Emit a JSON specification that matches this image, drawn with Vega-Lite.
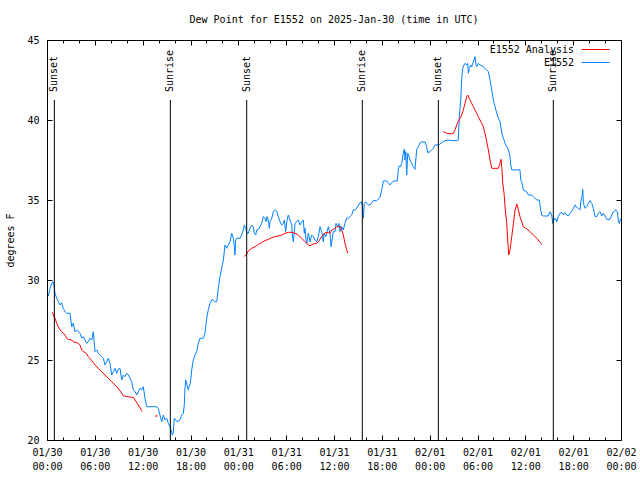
{
  "$schema": "https://vega.github.io/schema/vega-lite/v6.json",
  "width": 574,
  "height": 400,
  "autosize": {"type": "none"},
  "padding": {"left": 47, "top": 40, "right": 19, "bottom": 40},
  "background": "white",
  "title": {"text": "Dew Point for E1552 on 2025-Jan-30 (time in UTC)", "anchor": "middle", "offset": 10, "font": "DejaVu Sans Mono", "fontSize": 10, "fontWeight": "normal", "color": "black"},
  "config": {
    "view": {"stroke": "black", "strokeWidth": 1},
    "font": "DejaVu Sans Mono",
    "axis": {"domain": false, "grid": false, "labelFont": "DejaVu Sans Mono", "labelFontSize": 10, "labelColor": "black", "tickColor": "black", "titleFont": "DejaVu Sans Mono", "titleFontSize": 10, "titleFontWeight": "normal", "titleColor": "black", "labelOverlap": false, "labelFlush": false}
  },
  "datasets": {
    "obs": [
      {"t":0.16,"dewpoint":29.0},{"t":0.38,"dewpoint":29.48},{"t":0.59,"dewpoint":29.79},{"t":0.75,"dewpoint":29.89},{"t":0.88,"dewpoint":29.69},{"t":1.0,"dewpoint":29.17},{"t":1.22,"dewpoint":28.86},{"t":1.42,"dewpoint":28.64},{"t":1.63,"dewpoint":28.44},{"t":1.84,"dewpoint":28.58},{"t":2.04,"dewpoint":28.23},{"t":2.26,"dewpoint":28.02},{"t":2.47,"dewpoint":27.92},{"t":2.89,"dewpoint":27.92},{"t":3.1,"dewpoint":27.08},{"t":3.3,"dewpoint":27.29},{"t":3.51,"dewpoint":26.77},{"t":3.73,"dewpoint":26.88},{"t":4.14,"dewpoint":26.67},{"t":4.35,"dewpoint":26.36},{"t":4.55,"dewpoint":26.46},{"t":4.77,"dewpoint":26.25},{"t":4.98,"dewpoint":26.04},{"t":5.18,"dewpoint":26.14},{"t":5.39,"dewpoint":26.36},{"t":5.61,"dewpoint":26.25},{"t":5.81,"dewpoint":26.77},{"t":6.02,"dewpoint":25.52},{"t":6.23,"dewpoint":25.63},{"t":6.44,"dewpoint":25.42},{"t":6.86,"dewpoint":25.21},{"t":7.06,"dewpoint":25.11},{"t":7.28,"dewpoint":24.69},{"t":7.49,"dewpoint":24.89},{"t":7.69,"dewpoint":25.11},{"t":7.9,"dewpoint":24.79},{"t":8.12,"dewpoint":24.06},{"t":8.32,"dewpoint":24.27},{"t":8.53,"dewpoint":24.48},{"t":8.74,"dewpoint":24.17},{"t":8.94,"dewpoint":24.42},{"t":9.16,"dewpoint":24.48},{"t":9.37,"dewpoint":23.75},{"t":9.57,"dewpoint":24.06},{"t":9.78,"dewpoint":23.96},{"t":10.0,"dewpoint":24.17},{"t":10.2,"dewpoint":24.06},{"t":10.41,"dewpoint":23.86},{"t":10.62,"dewpoint":23.64},{"t":10.83,"dewpoint":23.13},{"t":11.04,"dewpoint":23.02},{"t":11.25,"dewpoint":22.81},{"t":11.67,"dewpoint":23.23},{"t":11.88,"dewpoint":23.13},{"t":12.08,"dewpoint":23.33},{"t":12.29,"dewpoint":22.61},{"t":12.51,"dewpoint":22.08},{"t":13.33,"dewpoint":22.08},{"t":13.76,"dewpoint":22.08},{"t":13.96,"dewpoint":21.98},{"t":14.17,"dewpoint":21.56},{"t":14.39,"dewpoint":21.14},{"t":14.59,"dewpoint":21.56},{"t":14.8,"dewpoint":21.25},{"t":15.02,"dewpoint":21.36},{"t":15.22,"dewpoint":21.04},{"t":15.43,"dewpoint":20.83},{"t":15.56,"dewpoint":20.63},{"t":15.72,"dewpoint":20.31},{"t":15.84,"dewpoint":20.42},{"t":15.97,"dewpoint":21.36},{"t":16.14,"dewpoint":21.25},{"t":16.31,"dewpoint":21.14},{"t":16.68,"dewpoint":21.25},{"t":16.9,"dewpoint":21.56},{"t":17.1,"dewpoint":21.67},{"t":17.22,"dewpoint":22.19},{"t":17.31,"dewpoint":23.23},{"t":17.4,"dewpoint":23.75},{"t":17.56,"dewpoint":23.44},{"t":17.72,"dewpoint":23.13},{"t":17.81,"dewpoint":23.33},{"t":17.98,"dewpoint":23.54},{"t":18.15,"dewpoint":24.38},{"t":18.35,"dewpoint":25.0},{"t":18.57,"dewpoint":25.31},{"t":18.78,"dewpoint":25.52},{"t":18.98,"dewpoint":26.04},{"t":19.19,"dewpoint":26.36},{"t":19.61,"dewpoint":26.36},{"t":19.82,"dewpoint":26.67},{"t":20.03,"dewpoint":27.61},{"t":20.23,"dewpoint":28.13},{"t":20.45,"dewpoint":28.54},{"t":20.66,"dewpoint":28.75},{"t":20.86,"dewpoint":28.75},{"t":21.07,"dewpoint":28.64},{"t":21.29,"dewpoint":28.64},{"t":21.49,"dewpoint":29.48},{"t":21.7,"dewpoint":30.21},{"t":21.91,"dewpoint":30.73},{"t":22.12,"dewpoint":31.25},{"t":22.33,"dewpoint":32.19},{"t":22.54,"dewpoint":31.98},{"t":22.74,"dewpoint":32.19},{"t":22.96,"dewpoint":32.39},{"t":23.17,"dewpoint":32.92},{"t":23.37,"dewpoint":32.61},{"t":23.5,"dewpoint":32.08},{"t":23.58,"dewpoint":31.56},{"t":23.67,"dewpoint":32.5},{"t":23.8,"dewpoint":32.61},{"t":24.21,"dewpoint":32.61},{"t":24.42,"dewpoint":32.81},{"t":24.62,"dewpoint":33.13},{"t":24.75,"dewpoint":33.44},{"t":24.93,"dewpoint":33.23},{"t":25.09,"dewpoint":32.92},{"t":25.25,"dewpoint":32.92},{"t":25.46,"dewpoint":33.23},{"t":25.68,"dewpoint":33.44},{"t":25.88,"dewpoint":33.33},{"t":26.0,"dewpoint":32.92},{"t":26.18,"dewpoint":32.81},{"t":26.31,"dewpoint":33.13},{"t":26.51,"dewpoint":33.17},{"t":26.72,"dewpoint":33.33},{"t":26.93,"dewpoint":33.54},{"t":27.13,"dewpoint":33.96},{"t":27.34,"dewpoint":33.86},{"t":27.47,"dewpoint":33.64},{"t":27.6,"dewpoint":33.96},{"t":27.76,"dewpoint":33.75},{"t":27.89,"dewpoint":33.23},{"t":27.97,"dewpoint":33.64},{"t":28.19,"dewpoint":33.86},{"t":28.39,"dewpoint":34.27},{"t":28.6,"dewpoint":34.38},{"t":28.81,"dewpoint":34.31},{"t":29.01,"dewpoint":33.96},{"t":29.23,"dewpoint":33.64},{"t":29.44,"dewpoint":33.44},{"t":29.64,"dewpoint":33.54},{"t":29.77,"dewpoint":33.75},{"t":29.94,"dewpoint":33.02},{"t":30.07,"dewpoint":33.64},{"t":30.27,"dewpoint":34.06},{"t":30.48,"dewpoint":33.75},{"t":30.7,"dewpoint":33.44},{"t":30.77,"dewpoint":32.81},{"t":30.9,"dewpoint":32.39},{"t":31.11,"dewpoint":33.54},{"t":31.32,"dewpoint":33.64},{"t":31.52,"dewpoint":33.75},{"t":31.74,"dewpoint":33.44},{"t":31.95,"dewpoint":33.64},{"t":32.15,"dewpoint":33.75},{"t":32.28,"dewpoint":32.92},{"t":32.36,"dewpoint":33.23},{"t":32.49,"dewpoint":32.5},{"t":32.58,"dewpoint":32.29},{"t":32.78,"dewpoint":32.92},{"t":32.99,"dewpoint":32.39},{"t":33.2,"dewpoint":32.81},{"t":33.4,"dewpoint":32.71},{"t":33.62,"dewpoint":32.5},{"t":33.83,"dewpoint":32.39},{"t":34.03,"dewpoint":32.71},{"t":34.25,"dewpoint":33.33},{"t":34.46,"dewpoint":33.02},{"t":34.66,"dewpoint":32.39},{"t":34.78,"dewpoint":32.92},{"t":34.96,"dewpoint":32.71},{"t":35.09,"dewpoint":32.92},{"t":35.29,"dewpoint":33.33},{"t":35.5,"dewpoint":32.92},{"t":35.63,"dewpoint":32.08},{"t":35.79,"dewpoint":32.61},{"t":35.91,"dewpoint":33.02},{"t":36.13,"dewpoint":33.02},{"t":36.25,"dewpoint":33.54},{"t":36.47,"dewpoint":33.33},{"t":36.63,"dewpoint":33.54},{"t":36.75,"dewpoint":33.02},{"t":36.97,"dewpoint":33.33},{"t":37.17,"dewpoint":33.13},{"t":37.38,"dewpoint":33.54},{"t":37.59,"dewpoint":33.86},{"t":37.8,"dewpoint":33.86},{"t":38.22,"dewpoint":34.06},{"t":38.42,"dewpoint":34.38},{"t":38.64,"dewpoint":34.38},{"t":38.85,"dewpoint":34.48},{"t":39.14,"dewpoint":34.75},{"t":39.39,"dewpoint":34.89},{"t":39.55,"dewpoint":34.69},{"t":39.68,"dewpoint":33.86},{"t":39.8,"dewpoint":34.79},{"t":39.98,"dewpoint":34.89},{"t":40.1,"dewpoint":34.79},{"t":40.3,"dewpoint":34.69},{"t":40.52,"dewpoint":34.69},{"t":40.73,"dewpoint":34.83},{"t":40.93,"dewpoint":34.96},{"t":41.36,"dewpoint":34.96},{"t":41.77,"dewpoint":35.17},{"t":41.99,"dewpoint":35.63},{"t":42.19,"dewpoint":36.19},{"t":42.61,"dewpoint":36.19},{"t":42.81,"dewpoint":36.08},{"t":43.03,"dewpoint":35.94},{"t":43.24,"dewpoint":36.08},{"t":43.44,"dewpoint":36.19},{"t":43.94,"dewpoint":36.19},{"t":44.07,"dewpoint":36.92},{"t":44.19,"dewpoint":37.13},{"t":44.32,"dewpoint":37.08},{"t":44.49,"dewpoint":37.29},{"t":44.69,"dewpoint":37.92},{"t":44.82,"dewpoint":38.17},{"t":44.91,"dewpoint":37.5},{"t":45.0,"dewpoint":38.02},{"t":45.12,"dewpoint":36.56},{"t":45.25,"dewpoint":37.92},{"t":45.41,"dewpoint":37.71},{"t":45.54,"dewpoint":37.5},{"t":45.75,"dewpoint":37.29},{"t":45.95,"dewpoint":37.08},{"t":46.16,"dewpoint":36.92},{"t":46.38,"dewpoint":38.17},{"t":46.58,"dewpoint":38.33},{"t":46.79,"dewpoint":38.58},{"t":47.0,"dewpoint":38.63},{"t":47.42,"dewpoint":38.63},{"t":47.63,"dewpoint":38.33},{"t":47.76,"dewpoint":37.96},{"t":48.04,"dewpoint":38.02},{"t":48.26,"dewpoint":38.13},{"t":48.46,"dewpoint":38.23},{"t":48.67,"dewpoint":38.44},{"t":49.09,"dewpoint":38.44},{"t":49.3,"dewpoint":38.5},{"t":49.51,"dewpoint":38.58},{"t":49.92,"dewpoint":38.71},{"t":50.34,"dewpoint":38.75},{"t":50.77,"dewpoint":38.71},{"t":51.39,"dewpoint":38.71},{"t":51.59,"dewpoint":38.75},{"t":51.72,"dewpoint":40.21},{"t":51.9,"dewpoint":41.25},{"t":52.02,"dewpoint":42.61},{"t":52.15,"dewpoint":43.23},{"t":52.31,"dewpoint":43.44},{"t":52.43,"dewpoint":43.54},{"t":52.65,"dewpoint":43.44},{"t":52.77,"dewpoint":43.54},{"t":52.85,"dewpoint":42.92},{"t":52.97,"dewpoint":43.23},{"t":53.15,"dewpoint":43.44},{"t":53.27,"dewpoint":43.33},{"t":53.4,"dewpoint":43.54},{"t":53.56,"dewpoint":43.75},{"t":53.69,"dewpoint":43.96},{"t":53.81,"dewpoint":43.44},{"t":53.9,"dewpoint":43.33},{"t":54.1,"dewpoint":43.54},{"t":54.31,"dewpoint":43.44},{"t":54.73,"dewpoint":43.33},{"t":55.15,"dewpoint":43.13},{"t":55.36,"dewpoint":43.02},{"t":55.57,"dewpoint":42.5},{"t":55.79,"dewpoint":41.88},{"t":55.99,"dewpoint":41.25},{"t":56.2,"dewpoint":40.83},{"t":56.42,"dewpoint":40.42},{"t":56.62,"dewpoint":40.11},{"t":56.83,"dewpoint":39.89},{"t":57.05,"dewpoint":39.17},{"t":57.25,"dewpoint":38.86},{"t":57.46,"dewpoint":38.54},{"t":57.67,"dewpoint":38.33},{"t":57.88,"dewpoint":38.13},{"t":58.08,"dewpoint":37.71},{"t":58.17,"dewpoint":37.19},{"t":58.3,"dewpoint":36.88},{"t":58.93,"dewpoint":36.88},{"t":59.33,"dewpoint":36.88},{"t":59.42,"dewpoint":36.25},{"t":59.55,"dewpoint":36.14},{"t":59.75,"dewpoint":35.63},{"t":60.18,"dewpoint":35.52},{"t":60.38,"dewpoint":35.31},{"t":60.8,"dewpoint":35.31},{"t":61.0,"dewpoint":35.21},{"t":61.22,"dewpoint":35.11},{"t":61.43,"dewpoint":35.0},{"t":61.75,"dewpoint":35.0},{"t":61.93,"dewpoint":34.38},{"t":62.05,"dewpoint":34.06},{"t":62.26,"dewpoint":34.0},{"t":62.89,"dewpoint":34.0},{"t":63.1,"dewpoint":34.27},{"t":63.31,"dewpoint":34.06},{"t":63.44,"dewpoint":33.54},{"t":63.51,"dewpoint":33.86},{"t":63.64,"dewpoint":33.75},{"t":63.77,"dewpoint":33.86},{"t":63.94,"dewpoint":33.64},{"t":64.14,"dewpoint":33.96},{"t":64.35,"dewpoint":34.17},{"t":64.57,"dewpoint":34.21},{"t":64.77,"dewpoint":34.06},{"t":64.98,"dewpoint":34.21},{"t":65.19,"dewpoint":34.06},{"t":65.4,"dewpoint":34.0},{"t":65.61,"dewpoint":34.17},{"t":65.82,"dewpoint":34.27},{"t":66.02,"dewpoint":34.48},{"t":66.23,"dewpoint":34.69},{"t":66.45,"dewpoint":34.54},{"t":66.65,"dewpoint":34.48},{"t":66.86,"dewpoint":34.38},{"t":66.99,"dewpoint":35.0},{"t":67.11,"dewpoint":35.21},{"t":67.2,"dewpoint":35.67},{"t":67.28,"dewpoint":34.79},{"t":67.49,"dewpoint":34.48},{"t":67.7,"dewpoint":34.58},{"t":67.9,"dewpoint":34.79},{"t":68.11,"dewpoint":34.96},{"t":68.33,"dewpoint":34.79},{"t":68.53,"dewpoint":34.48},{"t":68.74,"dewpoint":33.96},{"t":68.96,"dewpoint":33.96},{"t":69.16,"dewpoint":34.17},{"t":69.37,"dewpoint":34.27},{"t":69.58,"dewpoint":34.0},{"t":69.79,"dewpoint":34.17},{"t":70.0,"dewpoint":34.0},{"t":70.21,"dewpoint":33.79},{"t":70.62,"dewpoint":33.79},{"t":70.84,"dewpoint":34.06},{"t":71.04,"dewpoint":34.27},{"t":71.38,"dewpoint":34.38},{"t":71.55,"dewpoint":34.27},{"t":71.68,"dewpoint":33.64},{"t":71.8,"dewpoint":33.54},{"t":71.89,"dewpoint":33.75},{"t":72.0,"dewpoint":33.86}
    ],
    "ana": [
      {"t":0.66,"dewpoint":27.98,"seg":1},{"t":0.79,"dewpoint":27.81,"seg":1},{"t":1.0,"dewpoint":27.61,"seg":1},{"t":1.22,"dewpoint":27.29,"seg":1},{"t":1.42,"dewpoint":27.08,"seg":1},{"t":1.63,"dewpoint":26.88,"seg":1},{"t":1.84,"dewpoint":26.77,"seg":1},{"t":2.26,"dewpoint":26.56,"seg":1},{"t":2.47,"dewpoint":26.36,"seg":1},{"t":2.67,"dewpoint":26.29,"seg":1},{"t":3.1,"dewpoint":26.25,"seg":1},{"t":3.3,"dewpoint":26.14,"seg":1},{"t":3.73,"dewpoint":26.08,"seg":1},{"t":3.93,"dewpoint":26.04,"seg":1},{"t":4.14,"dewpoint":25.94,"seg":1},{"t":4.35,"dewpoint":25.63,"seg":1},{"t":4.55,"dewpoint":25.52,"seg":1},{"t":4.77,"dewpoint":25.48,"seg":1},{"t":4.98,"dewpoint":25.38,"seg":1},{"t":5.18,"dewpoint":25.21,"seg":1},{"t":5.61,"dewpoint":24.96,"seg":1},{"t":6.02,"dewpoint":24.69,"seg":1},{"t":6.44,"dewpoint":24.48,"seg":1},{"t":6.86,"dewpoint":24.27,"seg":1},{"t":7.28,"dewpoint":24.06,"seg":1},{"t":7.69,"dewpoint":23.86,"seg":1},{"t":8.12,"dewpoint":23.64,"seg":1},{"t":8.53,"dewpoint":23.44,"seg":1},{"t":8.94,"dewpoint":23.23,"seg":1},{"t":9.37,"dewpoint":22.92,"seg":1},{"t":9.57,"dewpoint":22.77,"seg":1},{"t":10.0,"dewpoint":22.71,"seg":1},{"t":10.62,"dewpoint":22.67,"seg":1},{"t":10.83,"dewpoint":22.67,"seg":1},{"t":11.04,"dewpoint":22.5,"seg":1},{"t":11.45,"dewpoint":22.19,"seg":1},{"t":11.88,"dewpoint":21.83,"seg":1},{"t":11.95,"dewpoint":21.77,"seg":1},
      {"t":13.55,"dewpoint":21.5,"seg":2},{"t":13.89,"dewpoint":21.5,"seg":2},
      {"t":24.75,"dewpoint":31.46,"seg":3},{"t":25.05,"dewpoint":31.63,"seg":3},{"t":25.25,"dewpoint":31.81,"seg":3},{"t":25.68,"dewpoint":31.98,"seg":3},{"t":26.09,"dewpoint":32.08,"seg":3},{"t":26.51,"dewpoint":32.23,"seg":3},{"t":26.93,"dewpoint":32.33,"seg":3},{"t":27.34,"dewpoint":32.46,"seg":3},{"t":27.76,"dewpoint":32.54,"seg":3},{"t":28.19,"dewpoint":32.64,"seg":3},{"t":28.6,"dewpoint":32.71,"seg":3},{"t":29.01,"dewpoint":32.75,"seg":3},{"t":29.44,"dewpoint":32.81,"seg":3},{"t":29.85,"dewpoint":32.92,"seg":3},{"t":30.27,"dewpoint":32.98,"seg":3},{"t":30.7,"dewpoint":32.98,"seg":3},{"t":31.11,"dewpoint":32.92,"seg":3},{"t":31.52,"dewpoint":32.81,"seg":3},{"t":31.95,"dewpoint":32.61,"seg":3},{"t":32.36,"dewpoint":32.39,"seg":3},{"t":32.78,"dewpoint":32.19,"seg":3},{"t":32.99,"dewpoint":32.14,"seg":3},{"t":33.4,"dewpoint":32.25,"seg":3},{"t":33.83,"dewpoint":32.29,"seg":3},{"t":34.03,"dewpoint":32.39,"seg":3},{"t":34.46,"dewpoint":32.71,"seg":3},{"t":34.87,"dewpoint":32.96,"seg":3},{"t":35.29,"dewpoint":32.96,"seg":3},{"t":35.5,"dewpoint":32.92,"seg":3},{"t":35.71,"dewpoint":33.13,"seg":3},{"t":35.91,"dewpoint":33.17,"seg":3},{"t":36.13,"dewpoint":33.23,"seg":3},{"t":36.34,"dewpoint":33.33,"seg":3},{"t":36.54,"dewpoint":33.33,"seg":3},{"t":36.75,"dewpoint":33.38,"seg":3},{"t":36.97,"dewpoint":33.13,"seg":3},{"t":37.17,"dewpoint":32.81,"seg":3},{"t":37.38,"dewpoint":32.29,"seg":3},{"t":37.59,"dewpoint":31.88,"seg":3},{"t":37.72,"dewpoint":31.67,"seg":3},
      {"t":49.71,"dewpoint":39.27,"seg":4},{"t":50.14,"dewpoint":39.17,"seg":4},{"t":50.77,"dewpoint":39.13,"seg":4},{"t":50.97,"dewpoint":39.17,"seg":4},{"t":51.18,"dewpoint":39.38,"seg":4},{"t":51.39,"dewpoint":39.69,"seg":4},{"t":51.59,"dewpoint":39.89,"seg":4},{"t":51.81,"dewpoint":40.11,"seg":4},{"t":52.02,"dewpoint":40.31,"seg":4},{"t":52.22,"dewpoint":40.63,"seg":4},{"t":52.43,"dewpoint":41.04,"seg":4},{"t":52.65,"dewpoint":41.46,"seg":4},{"t":52.77,"dewpoint":41.56,"seg":4},{"t":52.97,"dewpoint":41.36,"seg":4},{"t":53.27,"dewpoint":41.04,"seg":4},{"t":53.48,"dewpoint":40.83,"seg":4},{"t":53.69,"dewpoint":40.63,"seg":4},{"t":53.9,"dewpoint":40.42,"seg":4},{"t":54.1,"dewpoint":40.21,"seg":4},{"t":54.31,"dewpoint":40.0,"seg":4},{"t":54.53,"dewpoint":39.79,"seg":4},{"t":54.73,"dewpoint":39.58,"seg":4},{"t":54.94,"dewpoint":39.17,"seg":4},{"t":55.16,"dewpoint":38.64,"seg":4},{"t":55.36,"dewpoint":38.13,"seg":4},{"t":55.57,"dewpoint":37.5,"seg":4},{"t":55.79,"dewpoint":36.98,"seg":4},{"t":56.2,"dewpoint":36.98,"seg":4},{"t":56.61,"dewpoint":36.98,"seg":4},{"t":56.83,"dewpoint":37.29,"seg":4},{"t":56.95,"dewpoint":37.54,"seg":4},{"t":57.04,"dewpoint":37.08,"seg":4},{"t":57.17,"dewpoint":36.04,"seg":4},{"t":57.33,"dewpoint":35.42,"seg":4},{"t":57.49,"dewpoint":34.38,"seg":4},{"t":57.67,"dewpoint":33.54,"seg":4},{"t":57.79,"dewpoint":32.5,"seg":4},{"t":57.92,"dewpoint":31.56,"seg":4},{"t":58.08,"dewpoint":31.88,"seg":4},{"t":58.3,"dewpoint":32.71,"seg":4},{"t":58.5,"dewpoint":33.54,"seg":4},{"t":58.71,"dewpoint":34.38,"seg":4},{"t":58.93,"dewpoint":34.75,"seg":4},{"t":59.13,"dewpoint":34.38,"seg":4},{"t":59.33,"dewpoint":33.96,"seg":4},{"t":59.55,"dewpoint":33.64,"seg":4},{"t":59.75,"dewpoint":33.33,"seg":4},{"t":60.17,"dewpoint":33.19,"seg":4},{"t":60.59,"dewpoint":33.02,"seg":4},{"t":61.0,"dewpoint":32.81,"seg":4},{"t":61.43,"dewpoint":32.61,"seg":4},{"t":61.84,"dewpoint":32.36,"seg":4},{"t":62.05,"dewpoint":32.23,"seg":4}
    ],
    "sun": [
      {"t":0.92,"event":"Sunset"},{"t":15.47,"event":"Sunrise"},{"t":25.05,"event":"Sunset"},{"t":39.55,"event":"Sunrise"},{"t":49.09,"event":"Sunset"},{"t":63.51,"event":"Sunrise"}
    ]
  },
  "resolve": {"axis": {"x": "independent", "y": "independent"}},
  "layer": [
    {
      "data": {"name": "obs"},
      "mark": {"type": "line", "strokeWidth": 1, "interpolate": "linear"},
      "encoding": {
        "x": {"field": "t", "type": "quantitative", "scale": {"domain": [0, 72], "nice": false, "zero": false},
          "axis": {"orient": "bottom", "title": null, "values": [0,6,12,18,24,30,36,42,48,54,60,66,72], "tickSize": -5, "labelPadding": 12, "labelLineHeight": 14,
            "labelExpr": "[utcFormat(utc(2025,0,30) + datum.value*3600000, '%m/%d'), utcFormat(utc(2025,0,30) + datum.value*3600000, '%H:%M')]"}},
        "y": {"field": "dewpoint", "type": "quantitative", "scale": {"domain": [20, 45], "nice": false, "zero": false},
          "axis": {"orient": "left", "title": "degrees F", "values": [20,25,30,35,40,45], "tickSize": -5, "labelPadding": 13, "titlePadding": 11}},
        "color": {"datum": "E1552", "type": "nominal",
          "scale": {"domain": ["E1552 Analysis", "E1552"], "range": ["#ff0000", "#0080ff"]},
          "legend": {"orient": "none", "legendX": 541, "legendY": 2, "title": null, "symbolType": "M-2,0H2", "symbolSize": 196, "symbolStrokeWidth": 1, "labelFont": "DejaVu Sans Mono", "labelFontSize": 10, "labelColor": "black", "labelAlign": "right", "labelOffset": -29, "rowPadding": 0, "padding": 0}}
      }
    },
    {
      "data": {"name": "ana"},
      "mark": {"type": "line", "strokeWidth": 1},
      "encoding": {
        "x": {"field": "t", "type": "quantitative",
          "axis": {"orient": "bottom", "title": null, "labels": false, "values": [2,4,8,10,14,16,20,22,26,28,32,34,38,40,44,46,50,52,56,58,62,64,68,70], "tickSize": -3}},
        "y": {"field": "dewpoint", "type": "quantitative",
          "axis": {"orient": "right", "title": null, "labels": false, "values": [20,25,30,35,40,45], "tickSize": -5}},
        "detail": {"field": "seg"},
        "color": {"datum": "E1552 Analysis", "type": "nominal"}
      }
    },
    {
      "data": {"name": "sun"},
      "mark": {"type": "rule", "color": "black", "strokeWidth": 1},
      "encoding": {
        "x": {"field": "t", "type": "quantitative",
          "axis": {"orient": "top", "title": null, "labels": false, "values": [0,6,12,18,24,30,36,42,48,54,60,66,72], "tickSize": -5}},
        "y": {"datum": 41.25, "type": "quantitative", "axis": null},
        "y2": {"datum": 20}
      }
    },
    {
      "data": {"name": "sun"},
      "mark": {"type": "text", "angle": 270, "align": "left", "baseline": "middle", "font": "DejaVu Sans Mono", "fontSize": 10, "color": "black"},
      "encoding": {
        "x": {"field": "t", "type": "quantitative",
          "axis": {"orient": "top", "title": null, "labels": false, "values": [2,4,8,10,14,16,20,22,26,28,32,34,38,40,44,46,50,52,56,58,62,64,68,70], "tickSize": -3}},
        "y": {"datum": 41.75, "type": "quantitative", "axis": null},
        "text": {"field": "event"}
      }
    }
  ]
}
